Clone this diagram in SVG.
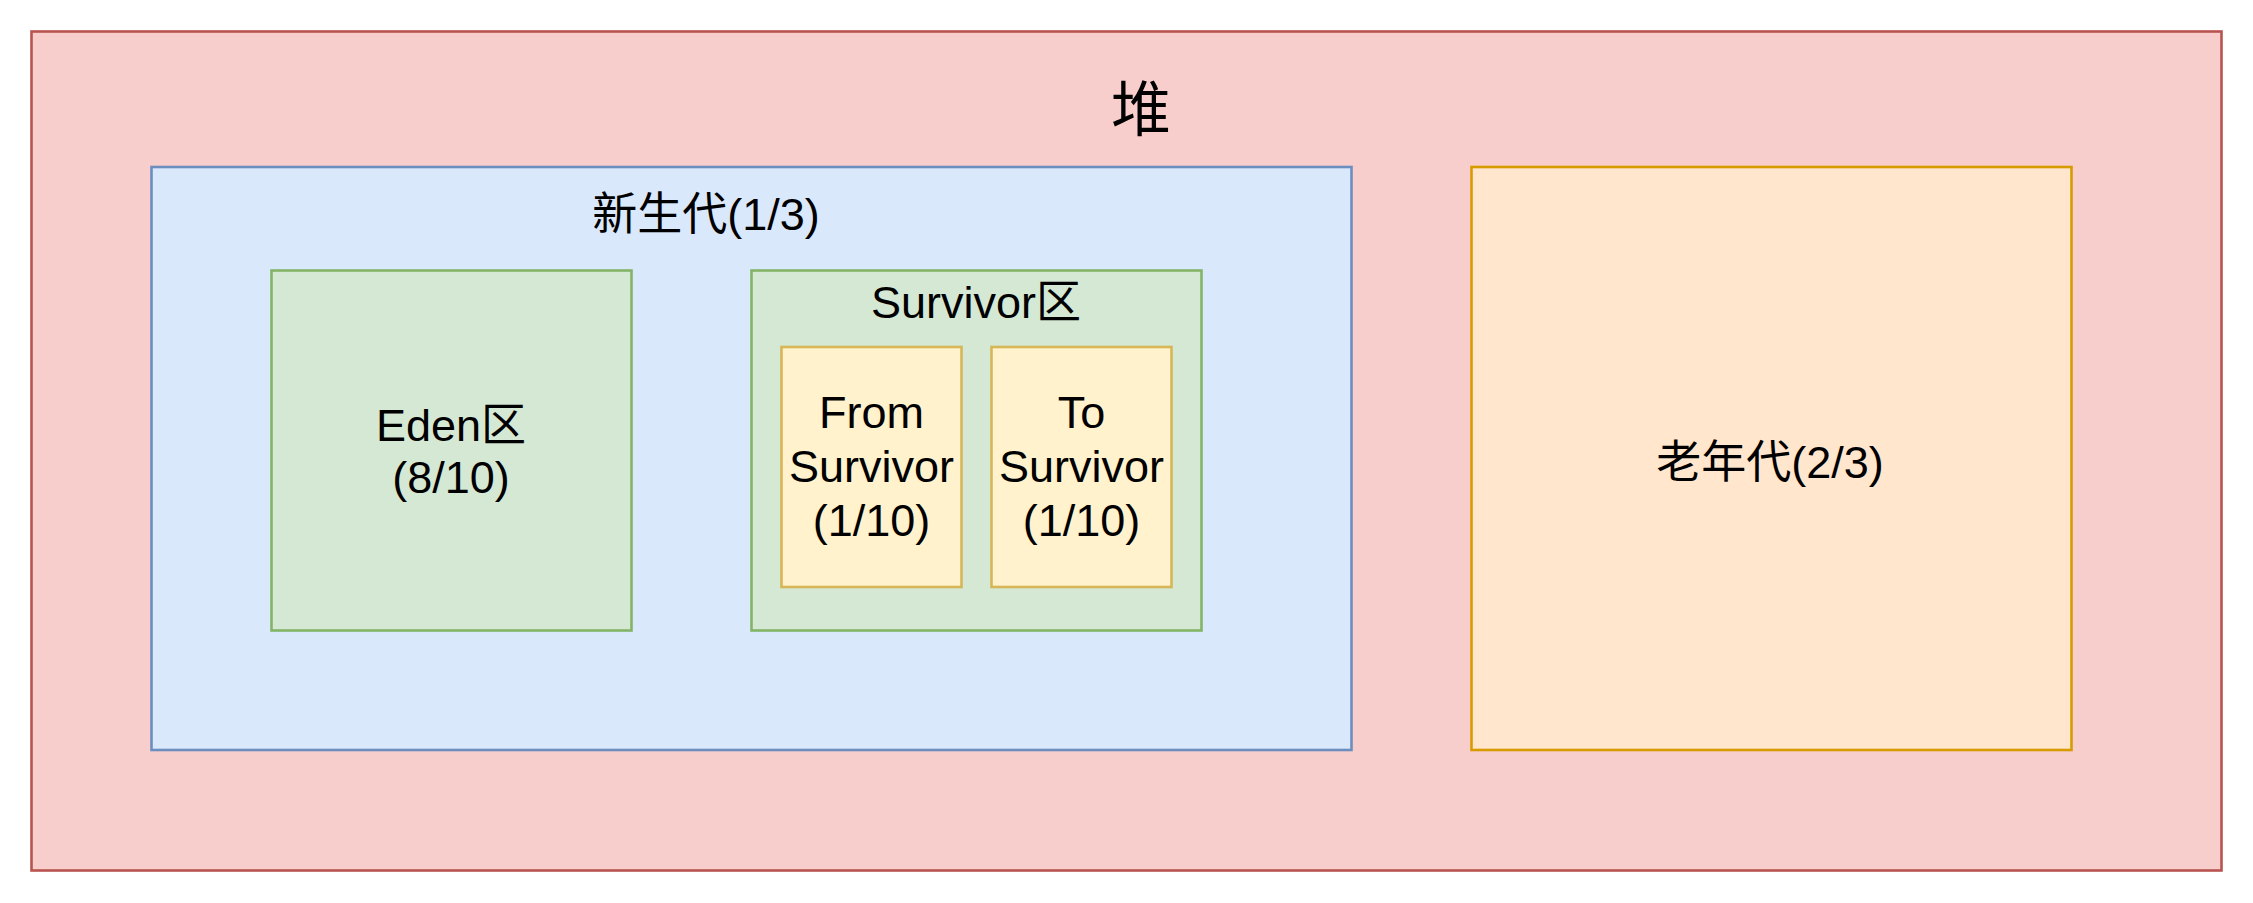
<svg xmlns="http://www.w3.org/2000/svg" width="2253" height="903" viewBox="0 0 2253 903">
<style>
  .t { font-family: "Liberation Sans", "Noto Sans CJK SC", sans-serif; font-size: 45px; fill: #000000; text-anchor: middle; }
  .big { font-size: 60px; }
  .box { stroke-width: 2.6; }
  .heap { fill: #f8cecc; stroke: #b85450; }
  .young { fill: #dae8fc; stroke: #6c8ebf; }
  .green { fill: #d5e8d4; stroke: #82b366; }
  .yellow { fill: #fff2cc; stroke: #d6b656; }
  .old { fill: #ffe6cc; stroke: #d79b00; }
</style>
<rect x="0" y="0" width="2253" height="903" fill="#ffffff"/>
<g id="heap">
  <rect class="box heap" x="31.5" y="31.5" width="2190" height="839"/>
  <text class="t big" x="1141" y="131">堆</text>
</g>
<g id="young">
  <rect class="box young" x="151.5" y="167" width="1200" height="583"/>
  <text class="t" x="706" y="230">新生代(1/3)</text>
</g>
<g id="eden">
  <rect class="box green" x="271.5" y="270.5" width="360" height="360"/>
  <text class="t" x="451" y="441">Eden区</text>
  <text class="t" x="451" y="493">(8/10)</text>
</g>
<g id="survivor">
  <rect class="box green" x="751.5" y="270.5" width="450" height="360"/>
  <text class="t" x="976" y="318">Survivor区</text>
</g>
<g id="from">
  <rect class="box yellow" x="781.5" y="347" width="180" height="240"/>
  <text class="t" x="871.5" y="428">From</text>
  <text class="t" x="871.5" y="482">Survivor</text>
  <text class="t" x="871.5" y="536">(1/10)</text>
</g>
<g id="to">
  <rect class="box yellow" x="991.5" y="347" width="180" height="240"/>
  <text class="t" x="1081.5" y="428">To</text>
  <text class="t" x="1081.5" y="482">Survivor</text>
  <text class="t" x="1081.5" y="536">(1/10)</text>
</g>
<g id="old">
  <rect class="box old" x="1471.5" y="167" width="600" height="583"/>
  <text class="t" x="1770" y="478">老年代(2/3)</text>
</g>
<g id="connectors"></g>
</svg>
